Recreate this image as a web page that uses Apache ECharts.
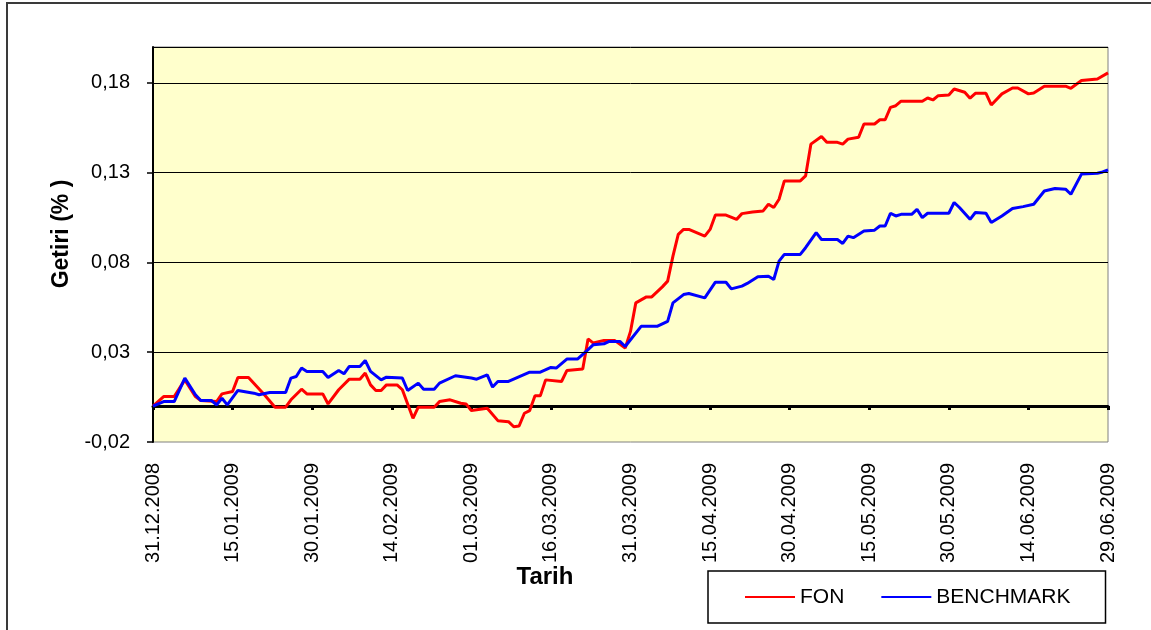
<!DOCTYPE html>
<html><head><meta charset="utf-8">
<script src="https://cdn.jsdelivr.net/npm/echarts@6/dist/echarts.min.js"></script>
<style>html,body{margin:0;padding:0;background:#fff}#c{width:1151px;height:630px}</style>
</head><body><div id="c"></div>
<script>
// ---- data ----
const xTickLabels = ['31.12.2008','15.01.2009','30.01.2009','14.02.2009','01.03.2009','16.03.2009','31.03.2009','15.04.2009','30.04.2009','15.05.2009','30.05.2009','14.06.2009','29.06.2009'];
const yTickValues = [-0.02, 0.03, 0.08, 0.13, 0.18];
const gridLineValues = [0.03, 0.08, 0.13, 0.18, 0.2];
const seriesNames = ['FON', 'BENCHMARK'];

// day offsets from 31.12.2008
const fonDays = [0,2,4,6,8,9,12,13,15,16,18,21,23,25,26,28,29,32,33,35,37,39,40,41,42,43,44,46,47,49,50,53,54,56,58,59,60,63,65,67,68,69,70,71,72,73,74,77,78,81,82,83,85,87,89,90,91,93,94,96,97,98,99,100,101,104,105,106,108,110,111,113,115,116,117,118,119,122,123,124,126,127,129,130,131,133,134,136,137,138,139,140,141,145,146,147,148,150,151,153,154,155,157,158,160,162,163,165,166,168,172,173,175,178,180];
const fonValues = [0.0000,0.0053,0.0053,0.0146,0.0053,0.0031,0.0025,0.0068,0.0081,0.0159,0.0159,0.0063,-0.0006,-0.0006,0.0035,0.0094,0.0068,0.0068,0.0012,0.0091,0.0150,0.0150,0.0184,0.0118,0.0087,0.0087,0.0118,0.0118,0.0091,-0.0068,-0.0006,-0.0006,0.0025,0.0035,0.0016,0.0012,-0.0025,-0.0012,-0.0081,-0.0087,-0.0115,-0.0111,-0.0040,-0.0025,0.0057,0.0057,0.0146,0.0137,0.0198,0.0206,0.0374,0.0351,0.0366,0.0366,0.0323,0.0416,0.0575,0.0608,0.0608,0.0664,0.0696,0.0835,0.0956,0.0984,0.0984,0.0947,0.0984,0.1064,0.1064,0.1040,0.1072,0.1081,0.1087,0.1124,0.1106,0.1152,0.1254,0.1254,0.1282,0.1459,0.1502,0.1469,0.1469,0.1459,0.1487,0.1497,0.1571,0.1571,0.1595,0.1595,0.1664,0.1673,0.1698,0.1698,0.1716,0.1705,0.1729,0.1733,0.1766,0.1748,0.1715,0.1742,0.1742,0.1677,0.1739,0.1772,0.1772,0.1739,0.1744,0.1782,0.1782,0.1770,0.1813,0.1822,0.1856];

const benchDays = [0,2,4,6,8,9,11,12,13,14,16,19,20,22,25,26,27,28,29,32,33,35,36,37,39,40,41,43,44,47,48,50,51,53,54,57,60,61,63,64,65,67,71,73,75,76,78,80,82,83,85,86,88,89,92,95,97,98,100,101,104,106,108,109,111,112,114,116,117,118,119,122,123,125,126,129,130,131,132,134,136,137,138,139,140,141,143,144,145,146,150,151,152,154,155,157,158,160,162,164,166,168,170,172,173,175,178,179,180];
const benchValues = [0.0000,0.0025,0.0025,0.0156,0.0063,0.0031,0.0031,0.0007,0.0044,0.0007,0.0087,0.0072,0.0063,0.0076,0.0076,0.0156,0.0165,0.0212,0.0193,0.0193,0.0159,0.0198,0.0180,0.0221,0.0221,0.0254,0.0193,0.0146,0.0161,0.0156,0.0087,0.0128,0.0094,0.0094,0.0128,0.0169,0.0156,0.0150,0.0174,0.0106,0.0137,0.0137,0.0189,0.0189,0.0215,0.0212,0.0262,0.0262,0.0314,0.0342,0.0347,0.0360,0.0360,0.0332,0.0444,0.0444,0.0472,0.0575,0.0621,0.0627,0.0603,0.0690,0.0690,0.0653,0.0668,0.0683,0.0720,0.0723,0.0705,0.0807,0.0845,0.0845,0.0882,0.0966,0.0928,0.0928,0.0906,0.0947,0.0938,0.0975,0.0980,0.1003,0.1003,0.1074,0.1059,0.1068,0.1068,0.1096,0.1050,0.1074,0.1074,0.1134,0.1106,0.1040,0.1078,0.1074,0.1022,0.1059,0.1100,0.1111,0.1124,0.1198,0.1212,0.1208,0.1180,0.1292,0.1297,0.1304,0.1316];

// ---- chart ----
const FONT = '"Liberation Sans", Arial, sans-serif';
const pair = (d, v) => d.map((x, i) => [x, v[i]]);
const fmt = v => v.toFixed(2).replace('.', ',');

const chart = echarts.init(document.getElementById('c'), null, {renderer: 'canvas'});
chart.setOption({
  animation: false,
  backgroundColor: '#ffffff',
  graphic: [
    {type: 'rect', z: -10, shape: {x: 7, y: 3, width: 1200, height: 700}, style: {fill: 'none', stroke: '#3a3a3a', lineWidth: 2}},
    {type: 'text', x: 545, y: 577, style: {text: 'Tarih', fontSize: 24, fontWeight: 'bold', fontFamily: FONT, fill: '#000', textAlign: 'center', textVerticalAlign: 'middle', align: 'center', verticalAlign: 'middle'}},
    {type: 'text', x: 62, y: 234, rotation: Math.PI / 2, style: {text: 'Getiri (% )', fontSize: 23, fontWeight: 'bold', fontFamily: FONT, fill: '#000', textAlign: 'center', textVerticalAlign: 'middle', align: 'center', verticalAlign: 'middle'}}
  ],
  grid: {left: 153, right: 43, top: 47, bottom: 188, show: true, backgroundColor: '#FFFFCC', borderColor: '#808080', borderWidth: 1},
  legend: {
    data: seriesNames, left: 708, top: 571, orient: 'horizontal',
    padding: [15, 35, 15, 37], itemGap: 37, itemWidth: 50, itemHeight: 2, icon: 'rect',
    borderColor: '#000', borderWidth: 1.5,
    textStyle: {fontSize: 21, fontFamily: FONT, color: '#000', lineHeight: 22}
  },
  xAxis: [
    {
      type: 'value', min: 0, max: 180, interval: 15, position: 'bottom',
      axisLine: {show: false, onZero: false}, axisTick: {show: false}, splitLine: {show: false},
      axisLabel: {rotate: 90, margin: 21, fontSize: 20, fontFamily: FONT, color: '#000',
        formatter: v => xTickLabels[Math.round(v / 15)] || ''}
    },
    {
      type: 'value', min: 0, max: 180, interval: 15, position: 'top',
      axisLine: {show: true, onZero: true, lineStyle: {color: '#000', width: 3}},
      axisTick: {show: true, inside: true, length: 4, lineStyle: {color: '#000', width: 3}},
      axisLabel: {show: false}, splitLine: {show: false}
    }
  ],
  yAxis: {
    type: 'value', min: -0.02, max: 0.2,
    axisLine: {show: true, lineStyle: {color: '#000', width: 2}},
    axisTick: {show: true, length: 6, customValues: yTickValues, lineStyle: {color: '#000', width: 1.5}},
    axisLabel: {customValues: yTickValues, formatter: fmt, margin: 23, fontSize: 20, fontFamily: FONT, color: '#000'},
    splitLine: {show: false}
  },
  series: [
    {
      name: 'gridlines', type: 'line', data: [], z: 1, silent: true,
      markLine: {silent: true, symbol: 'none', animation: false, label: {show: false},
        lineStyle: {color: '#000', width: 1, type: 'solid'},
        data: gridLineValues.map(v => ({yAxis: v}))}
    },
    {name: seriesNames[0], type: 'line', xAxisIndex: 0, data: pair(fonDays, fonValues), symbol: 'none', z: 3,
      lineStyle: {color: '#FF0000', width: 3}, itemStyle: {color: '#FF0000'}},
    {name: seriesNames[1], type: 'line', xAxisIndex: 0, data: pair(benchDays, benchValues), symbol: 'none', z: 3,
      lineStyle: {color: '#0000FF', width: 3}, itemStyle: {color: '#0000FF'}}
  ]
});
</script>
</body></html>
